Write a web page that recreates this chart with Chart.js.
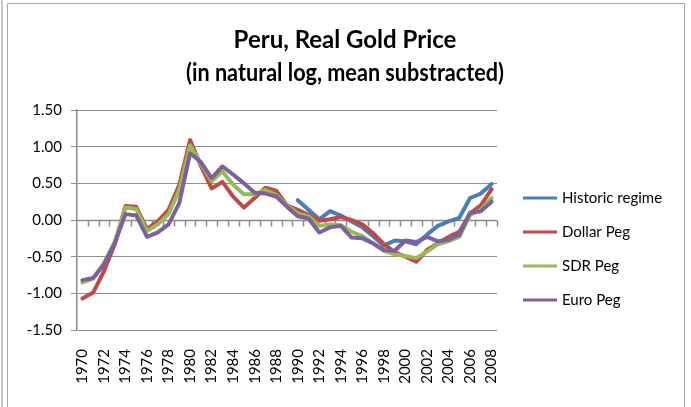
<!DOCTYPE html>
<html>
<head>
<meta charset="utf-8">
<title>Peru, Real Gold Price</title>
<script src="https://cdn.jsdelivr.net/npm/chart.js@4"></script>
<style>
  html, body { margin: 0; padding: 0; background: #fff; }
  #wrap { width: 691px; height: 407px; }
</style>
</head>
<body>
<div id="wrap"><canvas id="gold" width="691" height="407"></canvas></div>
<script>
// Años 1970-2008
const years = [];
for (let y = 1970; y <= 2008; y++) years.push(String(y));

// Series (log natural, media restada)
const historico = [null, null, null, null, null, null, null, null, null, null,
  null, null, null, null, null, null, null, null, null, null,
  0.27, 0.14, 0.01, 0.12, 0.06, -0.02, -0.10, -0.22, -0.35, -0.28,
  -0.29, -0.33, -0.20, -0.08, -0.02, 0.03, 0.30, 0.36, 0.49];
const dolar = [-1.07, -0.99, -0.70, -0.33, 0.19, 0.18, -0.12, -0.02, 0.14, 0.48,
  1.09, 0.74, 0.43, 0.52, 0.32, 0.17, 0.30, 0.44, 0.40, 0.20,
  0.14, 0.07, -0.01, 0.01, 0.04, 0.00, -0.06, -0.18, -0.33, -0.44,
  -0.50, -0.57, -0.41, -0.32, -0.23, -0.16, 0.09, 0.20, 0.42];
const sdr = [-0.85, -0.80, -0.59, -0.30, 0.17, 0.15, -0.15, -0.06, 0.08, 0.41,
  1.02, 0.77, 0.53, 0.66, 0.48, 0.35, 0.35, 0.41, 0.34, 0.20,
  0.09, 0.05, -0.08, -0.06, -0.07, -0.16, -0.22, -0.32, -0.42, -0.47,
  -0.49, -0.52, -0.43, -0.33, -0.29, -0.23, 0.07, 0.14, 0.30];
const euro = [-0.82, -0.79, -0.61, -0.32, 0.08, 0.06, -0.23, -0.17, -0.06, 0.23,
  0.91, 0.79, 0.57, 0.73, 0.62, 0.50, 0.37, 0.36, 0.32, 0.18,
  0.05, 0.02, -0.17, -0.10, -0.08, -0.24, -0.25, -0.32, -0.41, -0.42,
  -0.28, -0.30, -0.23, -0.29, -0.27, -0.20, 0.10, 0.12, 0.25];

const nombres = ['Historic regime', 'Dollar Peg', 'SDR Peg', 'Euro Peg'];
const colores = ['#4a7ebb', '#be4b48', '#98b954', '#7d60a0'];
const yTicks = [-1.5, -1.0, -0.5, 0.0, 0.5, 1.0, 1.5];
const titulo = ['Peru, Real Gold Price', '(in natural log, mean substracted)'];

const FONT = 'Lato, "Liberation Sans", sans-serif';
const GRIS = '#8c8c8c';

// Marco, título, eje en cero y leyenda
const decorado = {
  id: 'decorado',
  beforeDraw(chart) {
    const ctx = chart.ctx;
    ctx.save();
    ctx.fillStyle = '#fff';
    ctx.fillRect(0, 0, chart.width, chart.height);
    ctx.strokeStyle = '#c8c8c8';
    ctx.lineWidth = 2;
    ctx.beginPath();
    ctx.moveTo(2, 0); ctx.lineTo(2, chart.height);
    ctx.stroke();
    ctx.strokeStyle = '#a6a6a6';
    ctx.lineWidth = 1;
    ctx.beginPath();
    ctx.moveTo(7.5, chart.height);
    ctx.lineTo(7.5, 3.5);
    ctx.lineTo(684.5, 3.5);
    ctx.lineTo(684.5, chart.height);
    ctx.stroke();

    // título en dos líneas, algo comprimido
    ctx.fillStyle = '#000';
    ctx.font = 'bold 24px ' + FONT;
    ctx.textAlign = 'center';
    ctx.textBaseline = 'middle';
    ctx.fillText(titulo[0], 345, 40, 224);
    ctx.fillText(titulo[1], 345, 73, 318);
    ctx.restore();
  },
  beforeDatasetsDraw(chart) {
    const { ctx, chartArea, scales } = chart;
    const y0 = Math.round(scales.y.getPixelForValue(0)) + 0.5;
    const n = years.length;
    const paso = (chartArea.right - chartArea.left) / n;
    ctx.save();
    ctx.strokeStyle = GRIS;
    ctx.lineWidth = 1.5;
    ctx.beginPath();
    ctx.moveTo(chartArea.left, y0);
    ctx.lineTo(chartArea.right, y0);
    for (let i = 1; i <= n; i++) {
      const x = Math.round(chartArea.left + i * paso) + 0.5;
      ctx.moveTo(x, y0);
      ctx.lineTo(x, y0 + 6);
    }
    ctx.stroke();
    ctx.restore();
  },
  afterDraw(chart) {
    const ctx = chart.ctx;
    ctx.save();
    ctx.font = '15px ' + FONT;
    ctx.textAlign = 'left';
    ctx.textBaseline = 'middle';
    nombres.forEach((nombre, i) => {
      const y = 198 + i * 34;
      ctx.strokeStyle = colores[i];
      ctx.lineWidth = 3;
      ctx.beginPath();
      ctx.moveTo(523, y);
      ctx.lineTo(557, y);
      ctx.stroke();
      ctx.fillStyle = '#000';
      ctx.fillText(nombre, 562, y);
    });
    ctx.restore();
  }
};

const series = [historico, dolar, sdr, euro];

new Chart(document.getElementById('gold'), {
  type: 'line',
  data: {
    labels: years,
    datasets: series.map((d, i) => ({
      label: nombres[i],
      data: d,
      borderColor: colores[i],
      backgroundColor: colores[i],
      borderWidth: 4,
      pointRadius: 0,
      tension: 0,
      borderJoinStyle: 'round',
      borderCapStyle: 'round',
      order: 3 - i
    }))
  },
  options: {
    responsive: false,
    animation: false,
    layout: { padding: { top: 110, left: 8, right: 194, bottom: 0 } },
    plugins: {
      legend: { display: false },
      title: { display: false },
      tooltip: { enabled: false }
    },
    scales: {
      x: {
        offset: true,
        grid: { display: false, drawTicks: false },
        border: { display: false },
        ticks: {
          autoSkip: false,
          minRotation: 90,
          maxRotation: 90,
          padding: 19,
          color: '#000',
          font: { family: FONT, size: 15 },
          callback: (v, i) => (i % 2 === 0 ? years[i] : '')
        },
        afterFit: s => { s.height = 77; }
      },
      y: {
        min: -1.5,
        max: 1.5,
        afterBuildTicks: s => { s.ticks = yTicks.map(v => ({ value: v })); },
        grid: { color: GRIS, lineWidth: 1, tickLength: 6, tickColor: GRIS },
        border: { color: GRIS, width: 1.5 },
        ticks: {
          padding: 9,
          color: '#000',
          font: { family: FONT, size: 15 },
          callback: v => v.toFixed(2)
        },
        afterFit: s => { s.width = 69; }
      }
    }
  },
  plugins: [decorado]
});
</script>
</body>
</html>
